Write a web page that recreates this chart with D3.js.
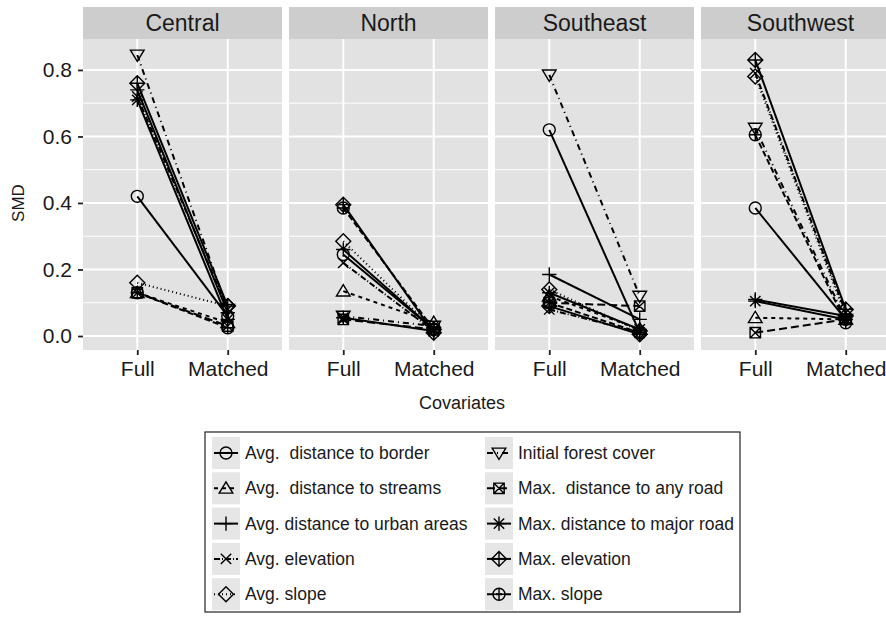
<!DOCTYPE html>
<html>
<head>
<meta charset="utf-8">
<title>SMD by region</title>
<script src="https://cdn.jsdelivr.net/npm/d3@7"></script>
<style>
	body { margin: 0; background: #ffffff; }
	text { font-family: "Liberation Sans", Arial, sans-serif; fill: #1a1a1a; }
	.grid-major { stroke: #ffffff; stroke-width: 2; }
	.grid-minor { stroke: #ffffff; stroke-width: 1; }
</style>
</head>
<body>
<script>
	// chart values
	var regions = ["Central", "North", "Southeast", "Southwest"];
	var levels = ["Full", "Matched"];
	var covariates = [
		"Avg.  distance to border",
		"Avg.  distance to streams",
		"Avg. distance to urban areas",
		"Avg. elevation",
		"Avg. slope",
		"Initial forest cover",
		"Max.  distance to any road",
		"Max. distance to major road",
		"Max. elevation",
		"Max. slope"
	];
	var yTicks = [0, 0.2, 0.4, 0.6, 0.8];
	var yMinor = [0.1, 0.3, 0.5, 0.7];

	// SMD before (Full) and after (Matched), one entry per covariate
	var centralFull      = [0.42, 0.13, 0.74, 0.72, 0.16, 0.845, 0.13, 0.71, 0.76, 0.13];
	var centralMatched   = [0.06, 0.04, 0.07, 0.08, 0.09, 0.08, 0.03, 0.05, 0.09, 0.025];
	var northFull        = [0.245, 0.135, 0.26, 0.22, 0.285, 0.06, 0.05, 0.055, 0.395, 0.385];
	var northMatched     = [0.02, 0.04, 0.02, 0.015, 0.02, 0.03, 0.02, 0.015, 0.01, 0.02];
	var southeastFull    = [0.62, 0.12, 0.185, 0.08, 0.14, 0.785, 0.10, 0.13, 0.09, 0.10];
	var southeastMatched = [0.01, 0.02, 0.05, 0.01, 0.015, 0.12, 0.09, 0.02, 0.005, 0.01];
	var southwestFull    = [0.385, 0.055, 0.11, 0.79, 0.78, 0.625, 0.01, 0.105, 0.83, 0.605];
	var southwestMatched = [0.05, 0.05, 0.06, 0.07, 0.06, 0.05, 0.05, 0.05, 0.08, 0.04];

	var fullByRegion = [centralFull, northFull, southeastFull, southwestFull];
	var matchedByRegion = [centralMatched, northMatched, southeastMatched, southwestMatched];

	// styles per covariate (ggplot shapes 1..10)
	var shapes = ["circle", "triUp", "plus", "cross", "diamond", "triDown", "squareX", "asterisk", "diamondPlus", "circlePlus"];
	var dashes = ["", "4,4", "", "6,2,1,2", "1,3", "6,4,1,4", "8,4", "", "", "6,3"];

	var width = 886, height = 617;
	var svg = d3.select("body").append("svg")
		.attr("width", width)
		.attr("height", height);

	var panelLeft = 83, panelW = 199, panelGap = 7;
	var stripTop = 7, panelTop = 39, panelBottom = 350;

	var y = d3.scaleLinear().domain([-0.042, 0.893]).range([panelBottom, panelTop]);

	function symbolPath(shape, s) {
		var p = d3.path();
		var r = s * 0.92;
		function circle() { p.moveTo(r, 0); p.arc(0, 0, r, 0, 2 * Math.PI); }
		function plus(k) { p.moveTo(-k, 0); p.lineTo(k, 0); p.moveTo(0, -k); p.lineTo(0, k); }
		function cross(k) { p.moveTo(-k, -k); p.lineTo(k, k); p.moveTo(-k, k); p.lineTo(k, -k); }
		function diamond(k) { p.moveTo(0, -k); p.lineTo(k, 0); p.lineTo(0, k); p.lineTo(-k, 0); p.closePath(); }
		if (shape == "circle") circle();
		else if (shape == "triUp") { p.moveTo(0, -s); p.lineTo(s * 1.05, s * 0.75); p.lineTo(-s * 1.05, s * 0.75); p.closePath(); }
		else if (shape == "triDown") { p.moveTo(0, s); p.lineTo(s * 1.05, -s * 0.75); p.lineTo(-s * 1.05, -s * 0.75); p.closePath(); }
		else if (shape == "plus") plus(s * 1.1);
		else if (shape == "cross") cross(s * 0.8);
		else if (shape == "diamond") diamond(s * 1.15);
		else if (shape == "squareX") { var k = s * 0.8; p.rect(-k, -k, 2 * k, 2 * k); cross(k); }
		else if (shape == "asterisk") { plus(s * 1.1); cross(s * 0.8); }
		else if (shape == "diamondPlus") { diamond(s * 1.15); plus(s * 1.15); }
		else if (shape == "circlePlus") { circle(); plus(r); }
		return p.toString();
	}

	regions.forEach(function(region, ri) {
		var px = panelLeft + ri * (panelW + panelGap);
		var x = d3.scalePoint().domain(levels).range([px, px + panelW]).padding(0.6);

		var clipId = "clip" + ri;
		svg.append("clipPath").attr("id", clipId)
			.append("rect").attr("x", px).attr("y", panelTop)
			.attr("width", panelW).attr("height", panelBottom - panelTop);

		// strip
		svg.append("rect")
			.attr("x", px).attr("y", stripTop)
			.attr("width", panelW).attr("height", panelTop - stripTop)
			.attr("fill", "#cdcdcd");
		svg.append("text")
			.attr("x", px + panelW / 2).attr("y", stripTop + 24)
			.attr("text-anchor", "middle")
			.attr("font-size", 23)
			.text(region);

		// panel background and grid
		svg.append("rect")
			.attr("x", px).attr("y", panelTop)
			.attr("width", panelW).attr("height", panelBottom - panelTop)
			.attr("fill", "#e2e2e2");
		svg.selectAll(null).data(yMinor).enter().append("line")
			.attr("class", "grid-minor")
			.attr("x1", px).attr("x2", px + panelW)
			.attr("y1", function(d) { return y(d); })
			.attr("y2", function(d) { return y(d); });
		svg.selectAll(null).data(yTicks).enter().append("line")
			.attr("class", "grid-major")
			.attr("x1", px).attr("x2", px + panelW)
			.attr("y1", function(d) { return y(d); })
			.attr("y2", function(d) { return y(d); });
		svg.selectAll(null).data(levels).enter().append("line")
			.attr("class", "grid-major")
			.attr("x1", function(d) { return x(d); })
			.attr("x2", function(d) { return x(d); })
			.attr("y1", panelTop).attr("y2", panelBottom);

		// x axis
		var xAxis = svg.append("g")
			.attr("transform", "translate(0," + panelBottom + ")")
			.call(d3.axisBottom(x).tickSize(5).tickPadding(6));
		xAxis.select(".domain").remove();
		xAxis.selectAll("line").attr("stroke", "#222").attr("stroke-width", 1.8);
		xAxis.selectAll("text").attr("font-size", 21).attr("fill", "#1a1a1a")
			.attr("font-family", "Liberation Sans, Arial, sans-serif");

		// lines and points
		var data = covariates.map(function(c, i) {
			return { i: i, vals: [fullByRegion[ri][i], matchedByRegion[ri][i]] };
		});
		var g = svg.append("g").attr("clip-path", "url(#" + clipId + ")");
		var line = d3.line()
			.x(function(d, j) { return x(levels[j]); })
			.y(function(d) { return y(d); });
		g.selectAll(".smd-line").data(data).enter().append("path")
			.attr("class", "smd-line")
			.attr("d", function(d) { return line(d.vals); })
			.attr("fill", "none")
			.attr("stroke", "#000")
			.attr("stroke-width", 2)
			.attr("stroke-dasharray", function(d) { return dashes[d.i]; });
		data.forEach(function(d) {
			d.vals.forEach(function(v, j) {
				g.append("path")
					.attr("transform", "translate(" + x(levels[j]) + "," + y(v) + ")")
					.attr("d", symbolPath(shapes[d.i], 6.5))
					.attr("fill", "none")
					.attr("stroke", "#000")
					.attr("stroke-width", 1.4);
			});
		});
	});

	// y axis
	var yAxis = svg.append("g")
		.attr("transform", "translate(" + panelLeft + ",0)")
		.call(d3.axisLeft(y).tickValues(yTicks).tickFormat(d3.format(".1f")).tickSize(5).tickPadding(6));
	yAxis.select(".domain").remove();
	yAxis.selectAll("line").attr("stroke", "#222").attr("stroke-width", 1.8);
	yAxis.selectAll("text").attr("font-size", 21).attr("fill", "#1a1a1a")
		.attr("font-family", "Liberation Sans, Arial, sans-serif");

	// axis titles
	svg.append("text")
		.attr("x", 462).attr("y", 409)
		.attr("text-anchor", "middle")
		.attr("font-size", 18)
		.text("Covariates");
	svg.append("text")
		.attr("transform", "translate(24,203) rotate(-90)")
		.attr("text-anchor", "middle")
		.attr("font-size", 17)
		.text("SMD");

	// legend
	var legend = svg.append("g");
	legend.append("rect")
		.attr("x", 205).attr("y", 432)
		.attr("width", 535).attr("height", 180)
		.attr("fill", "#ffffff")
		.attr("stroke", "#222").attr("stroke-width", 1.2);
	var colKeyX = [212, 485], rowY0 = 453, rowStep = 35.3, keyW = 28, keyH = 32;
	covariates.forEach(function(c, i) {
		var col = Math.floor(i / 5), row = i % 5;
		var kx = colKeyX[col], cy = rowY0 + row * rowStep;
		legend.append("rect")
			.attr("x", kx).attr("y", cy - keyH / 2)
			.attr("width", keyW).attr("height", keyH)
			.attr("fill", "#e6e6e6");
		legend.append("line")
			.attr("x1", kx + 2).attr("x2", kx + keyW - 2)
			.attr("y1", cy).attr("y2", cy)
			.attr("stroke", "#000").attr("stroke-width", 2)
			.attr("stroke-dasharray", dashes[i]);
		legend.append("path")
			.attr("transform", "translate(" + (kx + keyW / 2) + "," + cy + ")")
			.attr("d", symbolPath(shapes[i], 6.5))
			.attr("fill", "none")
			.attr("stroke", "#000").attr("stroke-width", 1.4);
		legend.append("text")
			.attr("x", kx + keyW + 5).attr("y", cy + 6)
			.attr("font-size", 17.5)
			.style("white-space", "pre")
			.text(c);
	});
</script>
</body>
</html>
